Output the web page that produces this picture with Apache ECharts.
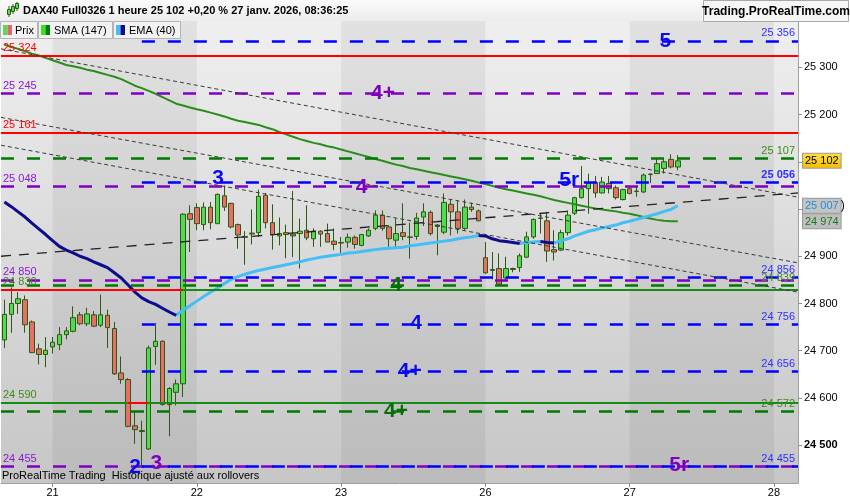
<!DOCTYPE html>
<html><head><meta charset="utf-8">
<script src="https://cdn.jsdelivr.net/npm/echarts@6/dist/echarts.min.js"></script>
<style>html,body{margin:0;padding:0;background:#fff}#c{width:850px;height:500px}</style>
</head><body><div id="c"></div><script>
// ---------- DATA ----------
const dayLabels = ['21','22','23','26','27','28'];
const dayFirstBar = [7, 28, 49, 70, 91, 112];
const slotCount = 116;
const darkDays = [[7, 28], [49, 70], [91, 112]];

const open = [24723,24777,24800,24808,24761,24704,24692,24708,24713,24734,
24741,24776,24757,24776,24754,24775,24747,24653,24639,24541,
24531,24492,24709,24720,24586,24612,24630,24990,25003,24967,
25004,24969,25028,25012,24967,24942,24949,24950,25029,24971,
24943,24950,24947,24948,24955,24937,24953,24948,24932,24929,
24930,24940,24923,24943,24959,24987,24962,24934,24950,24941,
24942,24983,24993,24966,24951,25010,24994,24959,25004,24996,
24897,24872,24874,24854,24874,24876,24898,24941,24980,24975,
24914,24913,24950,24991,25024,25043,25056,25034,25054,25045,
25020,25043,25037,25036,25073,25075,25086,25105,25089];
const close = [24777,24800,24810,24755,24696,24692,24701,24718,24734,24742,
24770,24757,24778,24752,24776,24749,24651,24639,24540,24533,
24529,24706,24720,24586,24620,24630,24989,24978,24969,25004,
24971,25031,25004,24962,24945,24940,24947,25027,24971,24946,
24948,24946,24943,24953,24939,24953,24947,24930,24925,24928,
24940,24925,24946,24955,24987,24959,24937,24948,24942,24940,
24981,24994,24948,24963,25014,24994,24959,25004,24999,24975,
24865,24870,24841,24874,24872,24901,24941,24978,24981,24911,
24909,24950,24987,25024,25043,25054,25034,25057,25043,25024,
25041,25033,25038,25072,25074,25096,25100,25089,25102];
const low = [24706,24738,24778,24738,24695,24671,24665,24694,24701,24724,
24739,24754,24752,24750,24750,24706,24649,24630,24538,24503,
24455,24490,24670,24584,24519,24584,24602,24909,24955,24955,
24957,24968,24996,24959,24916,24882,24925,24941,24959,24914,
24923,24896,24898,24874,24934,24920,24920,24930,24913,24907,
24918,24916,24921,24941,24955,24954,24920,24918,24934,24895,
24935,24964,24944,24902,24947,24944,24948,24955,24994,24974,
24863,24851,24839,24849,24866,24867,24896,24937,24948,24888,
24891,24911,24944,24987,25022,24990,25024,25033,25033,25020,
25018,25031,25026,25034,25055,25075,25075,25086,25082];
const high = [24808,24834,24824,24817,24764,24715,24729,24729,24750,24750,
24794,24782,24791,24784,24819,24787,24761,24688,24642,24572,
24552,24711,24759,24722,24623,24639,24991,25008,25012,25014,
25015,25033,25050,25013,24969,24953,24999,25041,25034,25010,
24982,24967,25038,24980,25008,24959,24955,24969,24959,24941,
24948,24944,24947,24959,24997,24997,24966,24980,25012,24971,
24992,25012,24997,24968,25033,25019,25017,25020,25013,24999,
24930,24909,24906,24899,24876,24906,24952,24980,24991,24994,
24955,24956,24997,25026,25091,25075,25070,25068,25070,25050,
25043,25048,25047,25075,25075,25107,25107,25116,25114];
const sma147 = [25348,25343,25339,25334,25329,25325,25320,25315,25310,25305,
25302,25299,25295,25292,25288,25284,25280,25275,25268,25261,
25256,25250,25244,25237,25230,25223,25219,25215,25211,25208,
25204,25200,25196,25191,25187,25184,25181,25178,25173,25169,
25163,25158,25153,25148,25144,25140,25137,25133,25130,25126,
25122,25118,25114,25110,25106,25102,25098,25094,25091,25087,
25084,25081,25078,25075,25072,25069,25066,25063,25060,25056,
25053,25049,25045,25042,25039,25036,25033,25030,25027,25023,
25019,25016,25013,25010,25007,25004,25001,24999,24997,24995,
24992,24990,24987,24983,24980,24977,24975,24974,24974];
const ema40 = [25015,25005,24994,24983,24970,24958,24946,24933,24921,24913,
24907,24900,24895,24888,24882,24876,24865,24854,24839,24824,
24812,24804,24798,24790,24782,24775,24786,24795,24805,24815,
24824,24833,24842,24851,24857,24862,24866,24870,24873,24876,
24879,24882,24885,24888,24892,24895,24898,24900,24902,24904,
24907,24908,24910,24912,24914,24916,24917,24918,24919,24922,
24924,24926,24928,24930,24932,24934,24937,24939,24941,24944,
24943,24937,24933,24931,24929,24927,24929,24930,24931,24929,
24928,24933,24937,24943,24948,24953,24956,24960,24963,24966,
24971,24974,24978,24982,24986,24990,24995,24999,25007];

const redLevels = [25324, 25161];
const purpleLevels = [25245, 25048, 24850, 24455];
const greenDashLevels = [25107, 24839, 24572];
const blueLevels = [25356, 25056, 24856, 24756, 24656, 24455];
const blueStartBar = 20;
const supportLevels = [24830, 24590];
const supportRedSpans = [[-0.5, 26], [17.9, 20.9]];
// trend lines: [value at left edge, value at right edge]
const trendShort = [[25339, 25025], [25194, 24886], [25135, 24824]];
const trendLong = [[24900, 25034]];
// wave labels: text, bar position, price, group
const waveLabels = [
  ['5', 96.2, 25356, 'b'], ['4+', 55.1, 25246, 'p'], ['3', 31.1, 25066, 'b'],
  ['4', 52.0, 25046, 'p'], ['5r', 82.2, 25060, 'b'], ['4', 57.0, 24839, 'g'],
  ['4', 59.9, 24758, 'b'], ['4+', 59.0, 24656, 'b'], ['4+', 57.0, 24573, 'g'],
  ['2', 19.0, 24454, 'b'], ['3', 22.1, 24462, 'p'], ['5r', 98.2, 24458, 'p']
];

// ---------- STYLE ----------
const FONT = '"Liberation Sans", Arial, sans-serif';
const C = {
  red: '#ff0000', purple: '#8000c4', blue: '#0000ff', blueText: '#3030ff',
  greenDash: '#007a00', greenText: '#3f8a1c', greenSolid: '#168c16', purpleText: '#8a1ad0'
};
const waveColor = { b: '#0a0af0', p: '#8000c0', g: '#067006' };
const TRANSPARENT = 'rgba(0,0,0,0)';
const fmt = v => String(v).replace(/\B(?=(\d{3})+(?!\d))/g, ' ');
const last = arr => arr[arr.length - 1];

const slotIds = Array.from({length: slotCount}, (_, i) => 'b' + i);
const candleData = open.map((o, i) => [o, close[i], low[i], high[i]]);
const emaUp = ema40.map((v, i) => ((i > 0 && v >= ema40[i-1]) || (i < ema40.length-1 && ema40[i+1] >= v)) ? v : null);
const emaDown = ema40.map((v, i) => ((i > 0 && v < ema40[i-1]) || (i < ema40.length-1 && ema40[i+1] < v)) ? v : null);

const L = -0.5, R = slotCount - 0.5;
const leftLabel = (v, color, bold) => ({show: true, position: 'insideStartTop', formatter: fmt(v), color, fontSize: 11, fontFamily: FONT, fontWeight: bold ? 'bold' : 'normal', distance: [2, 2]});
const rightLabel = (v, color, bold) => ({show: true, position: 'insideEndTop', formatter: fmt(v), color, fontSize: 11, fontFamily: FONT, fontWeight: bold ? 'bold' : 'normal', distance: [3, 2]});
const noLabel = {show: false};

const levelLines = [];
redLevels.forEach(v => levelLines.push({yAxis: v, lineStyle: {color: C.red, width: 2, type: 'solid'}, label: leftLabel(v, C.red)}));
purpleLevels.forEach(v => levelLines.push({yAxis: v, lineStyle: {color: C.purple, width: 2.5, type: [13, 13]}, label: leftLabel(v, C.purpleText)}));
greenDashLevels.forEach(v => levelLines.push({yAxis: v, lineStyle: {color: C.greenDash, width: 2.5, type: [13, 13]}, label: rightLabel(v, C.greenText)}));
blueLevels.forEach(v => levelLines.push([
  {coord: [blueStartBar, v], lineStyle: {color: C.blue, width: 2.5, type: [13, 13]}, label: rightLabel(v, C.blueText, v === 25056)},
  {coord: [R, v]}
]));
supportLevels.forEach((v, k) => {
  const sp = supportRedSpans[k];
  const cuts = [L, sp[0], sp[1], R].filter((c, i, a) => i === 0 || c > a[i-1]);
  for (let i = 0; i < cuts.length - 1; i++) {
    const isRed = cuts[i] >= sp[0] && cuts[i+1] <= sp[1];
    levelLines.push([
      {coord: [cuts[i], v], lineStyle: {color: isRed ? C.red : C.greenSolid, width: 2, type: 'solid'},
       label: i === 0 ? leftLabel(v, C.greenText) : noLabel},
      {coord: [cuts[i+1], v]}
    ]);
  }
});
const trendLines = [];
trendShort.forEach(t => trendLines.push([{coord: [L, t[0]], lineStyle: {color: '#3a3a3a', width: 1, type: [4, 3]}, label: noLabel}, {coord: [R, t[1]]}]));
trendLong.forEach(t => trendLines.push([{coord: [L, t[0]], lineStyle: {color: '#222', width: 1.3, type: [10, 8]}, label: noLabel}, {coord: [R, t[1]]}]));

const tag = (v, bg, color, extra) => ({
  yAxis: v, lineStyle: {color: TRANSPARENT, width: 0},
  label: {show: true, position: 'end', distance: 5, formatter: extra ? '{a|' + fmt(v) + '}{p|)}' : '{a|' + fmt(v) + '}',
    rich: {a: {backgroundColor: bg, color, fontSize: 11, fontFamily: FONT, padding: [2, 2, 1, 2], borderColor: '#9a9a9a', borderWidth: 1}, p: {color: '#000', fontSize: 12, fontFamily: FONT}}}
});

const chart = echarts.init(document.getElementById('c'));
chart.setOption({
  animation: false,
  backgroundColor: '#ffffff',
  grid: {left: 1, right: 52, top: 21, bottom: 17, show: true, borderWidth: 0,
    backgroundColor: {type: 'linear', x: 0, y: 0, x2: 0, y2: 1, colorStops: [{offset: 0, color: '#efefef'}, {offset: 1, color: '#c6c6c6'}]}},
  xAxis: [
    {type: 'category', data: slotIds, boundaryGap: true,
     axisLine: {show: true, onZero: false, lineStyle: {color: '#a0a0a0'}},
     axisTick: {show: true, alignWithLabel: true, length: 4, interval: i => dayFirstBar.includes(i), lineStyle: {color: '#909090'}},
     axisLabel: {interval: i => dayFirstBar.includes(i), color: '#000', fontSize: 11, fontFamily: FONT, margin: 4,
       formatter: (v, i) => { const k = dayFirstBar.indexOf(i); return k >= 0 ? dayLabels[k] : ''; }},
     splitLine: {show: false}},
    {type: 'value', min: L, max: R, show: false, axisLine: {onZero: false}}
  ],
  yAxis: {type: 'value', position: 'right', min: 24420, max: 25398, splitNumber: 10,
    axisLine: {show: true, onZero: false, lineStyle: {color: '#a0a0a0'}},
    axisTick: {show: true, length: 4, lineStyle: {color: '#909090'}},
    splitLine: {show: false},
    axisLabel: {color: '#000', fontSize: 11, fontFamily: FONT, margin: 6, showMinLabel: false, showMaxLabel: false,
      formatter: v => (v === 25000 || v === 25100) ? '' : (v === 24500 ? '{b|' + fmt(v) + '}' : fmt(v)),
      rich: {b: {fontWeight: 'bold', fontSize: 11, fontFamily: FONT, color: '#000'}}}},
  series: [
    {type: 'line', name: 'bands', xAxisIndex: 1, data: [], z: 1, silent: true,
     markArea: {silent: true, itemStyle: {color: 'rgba(0,0,0,0.055)'}, data: darkDays.map(d => [{xAxis: d[0]}, {xAxis: d[1]}])}},
    {type: 'line', name: 'levels', xAxisIndex: 1, data: [], z: 2, silent: true,
     markLine: {silent: true, symbol: ['none', 'none'], animation: false, data: levelLines}},
    {type: 'line', name: 'trends', xAxisIndex: 1, data: [], z: 2, silent: true,
     markLine: {silent: true, symbol: ['none', 'none'], animation: false, data: trendLines}},
    {type: 'candlestick', name: 'Prix', data: candleData, barWidth: 5, z: 3,
     itemStyle: {color: '#4fdc4f', color0: '#e86f68', borderColor: '#2c5a12', borderColor0: '#2c5a12', borderColorDoji: '#2c5a12', borderWidth: 1}},
    {type: 'line', name: 'SMA (147)', data: sma147, symbol: 'none', z: 4, lineStyle: {color: '#2a8c1a', width: 2}},
    {type: 'line', name: 'EMA up', data: emaUp, symbol: 'none', z: 4, connectNulls: false, lineStyle: {color: '#45bdf5', width: 3}},
    {type: 'line', name: 'EMA down', data: emaDown, symbol: 'none', z: 4, connectNulls: false, lineStyle: {color: '#0c0c8c', width: 3}},
    {type: 'scatter', name: 'waves', xAxisIndex: 1, z: 5, symbolSize: 1, itemStyle: {color: TRANSPARENT, opacity: 1}, silent: true,
     data: waveLabels.map(w => ({value: [w[1], w[2]], label: {show: true, position: 'inside', formatter: w[0], color: waveColor[w[3]], opacity: 1, fontSize: 21, fontWeight: 'bold', fontFamily: FONT}}))},
    {type: 'line', name: 'tags', xAxisIndex: 1, data: [], z: 6, silent: true,
     markLine: {silent: true, symbol: ['none', 'none'], animation: false, data: [
       tag(last(close), {type: 'linear', x: 0, y: 0, x2: 0, y2: 1, colorStops: [{offset: 0, color: '#ffe04a'}, {offset: 1, color: '#f2bc00'}]}, '#000'),
       tag(last(ema40), '#c4c4c4', '#1f8fd6', true),
       tag(last(sma147), '#bebebe', '#1a7a1a')
     ]}}
  ],
  graphic: [
    {type: 'rect', shape: {x: 0, y: 0, width: 702, height: 21}, style: {fill: {type: 'linear', x: 0, y: 0, x2: 0, y2: 1, colorStops: [{offset: 0, color: '#fafafa'}, {offset: 1, color: '#ececec'}]}}, z: 10},
    {type: 'line', shape: {x1: 9, y1: 6, x2: 9, y2: 17}, style: {stroke: '#2c5a12', lineWidth: 1}, z: 11},
    {type: 'rect', shape: {x: 7.5, y: 9.5, width: 3, height: 5}, style: {fill: '#55dd55', stroke: '#2c5a12'}, z: 11},
    {type: 'line', shape: {x1: 13, y1: 4, x2: 13, y2: 14}, style: {stroke: '#2c5a12', lineWidth: 1}, z: 11},
    {type: 'rect', shape: {x: 11.5, y: 6.5, width: 3, height: 5}, style: {fill: '#55dd55', stroke: '#2c5a12'}, z: 11},
    {type: 'line', shape: {x1: 17, y1: 2, x2: 17, y2: 11}, style: {stroke: '#2c5a12', lineWidth: 1}, z: 11},
    {type: 'rect', shape: {x: 15.5, y: 3.5, width: 3, height: 5}, style: {fill: '#55dd55', stroke: '#2c5a12'}, z: 11},
    {type: 'text', x: 23, y: 11, style: {text: 'DAX40 Full0326 1 heure 25 102 +0,20 % 27 janv. 2026, 08:36:25', font: 'bold 11px ' + FONT, fill: '#000', textVerticalAlign: 'middle'}, z: 11},
    {type: 'rect', shape: {x: 703.5, y: 0.5, width: 145, height: 21}, style: {fill: '#f6f6f6', stroke: '#a8a8a8'}, z: 10},
    {type: 'text', x: 776, y: 11.5, style: {text: 'Trading.ProRealTime.com', font: 'bold 12px ' + FONT, fill: '#000', textAlign: 'center', textVerticalAlign: 'middle'}, z: 11},
    {type: 'rect', shape: {x: 0.5, y: 21.5, width: 37, height: 17}, style: {fill: '#f2f2f2', stroke: '#b4b4b4'}, z: 10},
    {type: 'rect', shape: {x: 3, y: 25, width: 4.5, height: 10}, style: {fill: '#5ad85a'}, z: 11},
    {type: 'rect', shape: {x: 7.5, y: 25, width: 4.5, height: 10}, style: {fill: '#e06868'}, z: 11},
    {type: 'text', x: 15, y: 30.5, style: {text: 'Prix', font: '11px ' + FONT, fill: '#000', textVerticalAlign: 'middle'}, z: 11},
    {type: 'rect', shape: {x: 38.5, y: 21.5, width: 74, height: 17}, style: {fill: '#f2f2f2', stroke: '#b4b4b4'}, z: 10},
    {type: 'rect', shape: {x: 41, y: 25, width: 4.5, height: 10}, style: {fill: '#33e61a'}, z: 11},
    {type: 'rect', shape: {x: 45.5, y: 25, width: 4.5, height: 10}, style: {fill: '#0b7a0b'}, z: 11},
    {type: 'text', x: 54, y: 30.5, style: {text: 'SMA (147)', font: '11px ' + FONT, fill: '#000', textVerticalAlign: 'middle'}, z: 11},
    {type: 'rect', shape: {x: 113.5, y: 21.5, width: 67, height: 17}, style: {fill: '#f2f2f2', stroke: '#b4b4b4'}, z: 10},
    {type: 'rect', shape: {x: 116, y: 25, width: 4.5, height: 10}, style: {fill: '#45bdf5'}, z: 11},
    {type: 'rect', shape: {x: 120.5, y: 25, width: 4.5, height: 10}, style: {fill: '#0c0c8c'}, z: 11},
    {type: 'text', x: 129, y: 30.5, style: {text: 'EMA (40)', font: '11px ' + FONT, fill: '#000', textVerticalAlign: 'middle'}, z: 11},
    {type: 'text', x: 2, y: 476, style: {text: 'ProRealTime Trading  Historique ajusté aux rollovers', font: '11px ' + FONT, fill: '#000', textVerticalAlign: 'middle'}, z: 11}
  ]
});
</script></body></html>
